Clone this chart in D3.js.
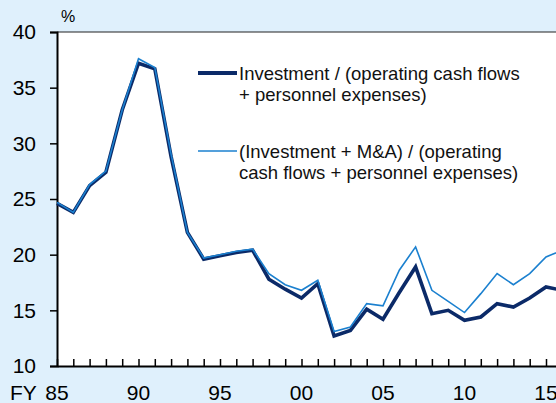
<!DOCTYPE html>
<html>
<head>
<meta charset="utf-8">
<script src="https://cdn.jsdelivr.net/npm/d3@7"></script>
<style>
  body { margin:0; padding:0; background:#dff0fc; }
  svg { display:block; font-family:"Liberation Sans", Arial, sans-serif; }
</style>
</head>
<body>
<div id="chart"></div>
<script>
var years = [1985,1986,1987,1988,1989,1990,1991,1992,1993,1994,1995,1996,1997,1998,1999,2000,
             2001,2002,2003,2004,2005,2006,2007,2008,2009,2010,2011,2012,2013,2014,2015,2016];

// Investment / (operating cash flows + personnel expenses)
var invest = [24.6,23.8,26.2,27.4,33.0,37.2,36.7,28.8,22.0,19.6,19.9,20.2,20.4,17.8,16.9,16.1,
              17.4,12.7,13.2,15.1,14.2,16.6,18.9,14.7,15.0,14.1,14.4,15.6,15.3,16.1,17.1,16.8];

// (Investment + M&A) / (operating cash flows + personnel expenses)
var investMA = [24.7,23.8,26.3,27.5,33.0,37.6,36.8,29.0,22.0,19.7,20.0,20.3,20.5,18.3,17.3,16.8,
                17.7,13.1,13.5,15.6,15.4,18.6,20.7,16.8,15.8,14.8,16.5,18.3,17.3,18.3,19.8,20.4];

var yTicks = [10,15,20,25,30,35,40];
var xLabelYears = [1985,1990,1995,2000,2005,2010,2015];
var xLabels = ['85','90','95','00','05','10','15'];

var legendLabels = [
  ['Investment / (operating cash flows', '+ personnel expenses)'],
  ['(Investment + M&A) / (operating', 'cash flows + personnel expenses)']
];

var W = 556, H = 403;
var DARK = '#0b2a68', LIGHT = '#1b80cf';

var x = d3.scaleLinear().domain([1985, 2016]).range([57, 562.3]);
var y = d3.scaleLinear().domain([10, 40]).range([366, 32]);

var svg = d3.select('#chart').append('svg').attr('width', W).attr('height', H);

svg.append('rect').attr('width', W).attr('height', H).attr('fill', '#dff0fc');

// white plot area
svg.append('rect')
  .attr('x', x(1985)).attr('y', y(40))
  .attr('width', 600).attr('height', y(10) - y(40))
  .attr('fill', '#fff');
svg.append('line')
  .attr('x1', x(1985)).attr('x2', 700).attr('y1', y(40)).attr('y2', y(40))
  .attr('stroke', '#222').attr('stroke-width', 1);

// y axis
var yAxis = svg.append('g').attr('transform', 'translate(' + x(1985) + ',0)')
  .call(d3.axisLeft(y).tickValues(yTicks).tickSize(7).tickPadding(14));
yAxis.select('.domain').attr('stroke', '#000').attr('stroke-width', 2);
yAxis.selectAll('.tick line').attr('stroke', '#000').attr('stroke-width', 1.5);
yAxis.selectAll('.tick text').attr('font-size', 21).attr('fill', '#000')
  .attr('font-family', '"Liberation Sans", Arial, sans-serif');

// x axis, ticks pointing up
var xAxis = svg.append('g').attr('transform', 'translate(0,' + y(10) + ')')
  .call(d3.axisBottom(x).tickValues(years).tickSizeInner(-7).tickSizeOuter(0).tickFormat(''));
xAxis.select('.domain').attr('stroke', '#000').attr('stroke-width', 2);
xAxis.selectAll('.tick line').attr('stroke', '#000').attr('stroke-width', 1.5);

svg.selectAll('text.xlab').data(xLabelYears).enter().append('text')
  .attr('class', 'xlab')
  .attr('x', function(d) { return x(d); })
  .attr('y', 400)
  .attr('text-anchor', 'middle')
  .attr('font-size', 21)
  .text(function(d, i) { return xLabels[i]; });

svg.append('text').attr('x', 10).attr('y', 400).attr('font-size', 21).text('FY');
svg.append('text').attr('x', 61).attr('y', 22).attr('font-size', 16).text('%');

// lines
var line = function(vals) {
  return d3.line().x(function(d, i) { return x(years[i]); }).y(function(d) { return y(d); })(vals);
};
svg.append('path').attr('d', line(invest))
  .attr('fill', 'none').attr('stroke', DARK).attr('stroke-width', 3.6).attr('stroke-linejoin', 'miter');
svg.append('path').attr('d', line(investMA))
  .attr('fill', 'none').attr('stroke', LIGHT).attr('stroke-width', 1.6).attr('stroke-linejoin', 'miter');

// legend
var leg = [
  { color: DARK, width: 4, y: 73, lines: legendLabels[0] },
  { color: LIGHT, width: 1.6, y: 151, lines: legendLabels[1] }
];
leg.forEach(function(l) {
  svg.append('line').attr('x1', 198).attr('x2', 237).attr('y1', l.y).attr('y2', l.y)
    .attr('stroke', l.color).attr('stroke-width', l.width);
  var t = svg.append('text').attr('x', 239).attr('y', l.y + 6.5).attr('font-size', 18.5).attr('fill', '#111');
  l.lines.forEach(function(s, i) {
    t.append('tspan').attr('x', 239).attr('dy', i ? 21.5 : 0).text(s);
  });
});
</script>
</body>
</html>
